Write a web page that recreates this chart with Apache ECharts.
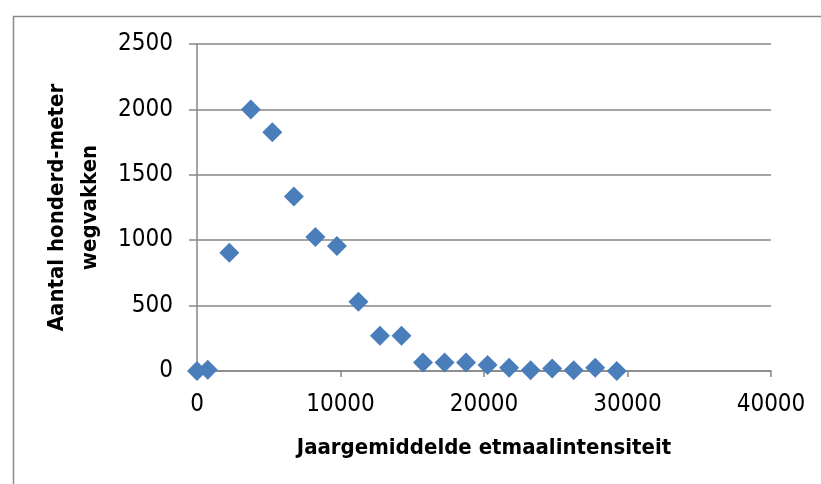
<!DOCTYPE html>
<html>
<head>
<meta charset="utf-8">
<script src="https://cdn.jsdelivr.net/npm/echarts@6/dist/echarts.min.js"></script>
<style>
html,body{margin:0;padding:0;background:#fff;}
#c{width:821px;height:484px;}
</style>
</head>
<body>
<div id="c"></div>
<script>
// Data
var xValues = [0, 750, 2250, 3750, 5250, 6750, 8250, 9750, 11250, 12750, 14250, 15750, 17250, 18750, 20250, 21750, 23250, 24750, 26250, 27750, 29250];
var yValues = [0, 10, 905, 2000, 1825, 1335, 1025, 955, 530, 270, 270, 65, 65, 65, 45, 25, 5, 20, 5, 25, 0];
var xTitle = 'Jaargemiddelde etmaalintensiteit';
var yTitle = 'Aantal honderd-meter\nwegvakken';

var pts = xValues.map(function (x, i) { return [x, yValues[i]]; });
var FONT = "'DejaVu Sans Condensed', 'Liberation Sans', sans-serif";
var AX = '#878787';
var plain = function (v) { return String(v); };

var chart = echarts.init(document.getElementById('c'), null, { renderer: 'canvas' });
chart.setOption({
  animation: false,
  backgroundColor: '#fff',
  graphic: [{
    type: 'rect', left: 11, top: 14,
    shape: { width: 840, height: 500 },
    style: { fill: 'none', stroke: '#8a8a8a', lineWidth: 1.5 },
    silent: true
  }],
  grid: { left: 197, right: 50, top: 44, bottom: 113, containLabel: false },
  xAxis: {
    type: 'value', min: 0, max: 40000, interval: 10000,
    name: xTitle, nameLocation: 'middle', nameGap: 66,
    nameTextStyle: { fontFamily: FONT, fontWeight: 'bold', fontSize: 22, color: '#000' },
    axisLine: { show: true, onZero: false, lineStyle: { color: AX, width: 1.5 } },
    axisTick: { show: true, inside: false, length: 6, lineStyle: { color: AX, width: 1.5 } },
    axisLabel: { fontFamily: FONT, fontSize: 24, color: '#000', margin: 22, formatter: plain },
    splitLine: { show: false }
  },
  yAxis: {
    type: 'value', min: 0, max: 2500, interval: 500,
    name: yTitle, nameLocation: 'middle', nameGap: 81, nameRotate: 90,
    nameTextStyle: { fontFamily: FONT, fontWeight: 'bold', fontSize: 22, color: '#000', lineHeight: 33, align: 'center' },
    axisLine: { show: true, lineStyle: { color: AX, width: 1.5 } },
    axisTick: { show: true, inside: false, length: 8, lineStyle: { color: AX, width: 1.5 } },
    axisLabel: { fontFamily: FONT, fontSize: 24, color: '#000', margin: 24, formatter: plain },
    splitLine: { show: true, lineStyle: { color: AX, width: 1.5 } }
  },
  series: [{
    type: 'scatter',
    data: pts,
    symbol: 'diamond',
    symbolSize: [20, 20],
    itemStyle: { color: '#4a7ebb', opacity: 1 },
    z: 5
  }]
});
</script>
</body>
</html>
